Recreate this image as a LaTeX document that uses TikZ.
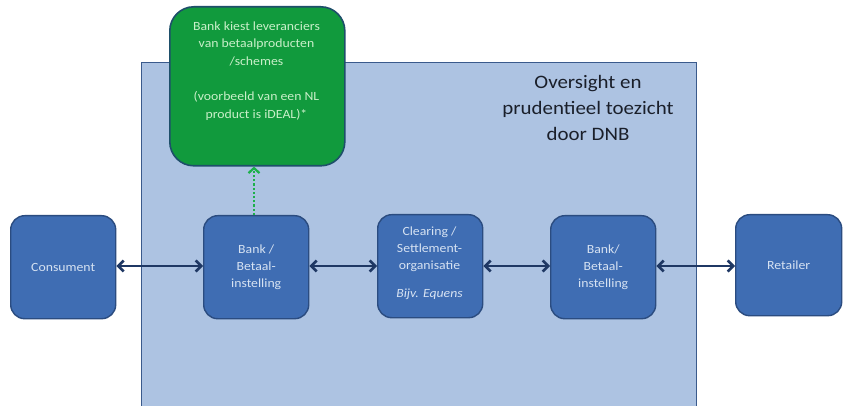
\documentclass[tikz,border=0pt]{standalone}
\usepackage{fontspec}
\setmainfont{Carlito}
\newfontfamily\wfont[FakeStretch=1.1]{Carlito}
\usetikzlibrary{arrows.meta}
\definecolor{bgblue}{HTML}{ADC3E2}
\definecolor{bgedge}{HTML}{3A5A8C}
\definecolor{boxfill}{HTML}{3F6DB3}
\definecolor{boxedge}{HTML}{2B4C80}
\definecolor{boxtext}{HTML}{D6E2F2}
\definecolor{greenfill}{HTML}{119A3D}
\definecolor{greenedge}{HTML}{1E4F6A}
\definecolor{greentext}{HTML}{C9EFC9}
\definecolor{dotgreen}{HTML}{1DB04A}
\definecolor{arrowcol}{HTML}{1F3864}
\definecolor{titlecol}{HTML}{1A1F2A}
\tikzset{
  x=1pt,y=-1pt,
  flowbox/.style={draw=boxedge, line width=1.4pt, fill=boxfill, rounded corners=14pt,
    minimum width=105pt, minimum height=103pt, text=boxtext, align=center,
    font=\wfont\fontsize{12.5}{17}\selectfont, inner sep=0pt},
  boxlabel/.style={text=boxtext, align=center, font=\wfont\fontsize{12.5}{17}\selectfont, inner sep=0pt},
  link/.style={draw=arrowcol, line width=2.6pt, {Straight Barb[length=5.5pt,width=11pt]}-{Straight Barb[length=5.5pt,width=11pt]}},
}
\begin{document}
\begin{tikzpicture}
\useasboundingbox (0,0) rectangle (846,406);
\fill[white] (0,0) rectangle (846,406);
% supervision area
\node[draw=bgedge, line width=1.2pt, fill=bgblue, minimum width=555pt, minimum height=350pt, inner sep=0pt, anchor=north west] (area) at (141,62) {};
\node[text=titlecol, align=center, font=\wfont\fontsize{19}{26}\selectfont, inner sep=0pt] (title) at (588,108) {Oversight en\\prudentieel toezicht\\door DNB};
% green box
\node[draw=greenedge, line width=1.6pt, fill=greenfill, rounded corners=24pt, minimum width=175pt, minimum height=159pt, inner sep=0pt, anchor=north west] (green) at (169,6) {};
\node[text=greentext, align=center, font=\wfont\fontsize{12.5}{17.7}\selectfont, inner sep=0pt] (greentxt) at (256.5,71) {Bank kiest leveranciers\\van betaalproducten\\/schemes\\[17.7pt](voorbeeld van een NL\\product is iDEAL)*};
% row boxes
\node[flowbox, anchor=north west] (cons) at (10,215) {Consument};
\node[flowbox, anchor=north west] (bank1) at (203,215) {Bank /\\Betaal-\\instelling};
\node[flowbox, anchor=north west] (clear) at (377,214) {};
\node[boxlabel] (cleartxt) at (429.5,263) {Clearing /\\Settlement-\\organisatie\\[11pt]\textit{Bijv. Equens}};
\node[flowbox, anchor=north west] (bank2) at (550,215) {Bank/\\Betaal-\\instelling};
\node[flowbox, anchor=north west, minimum width=106pt, minimum height=101pt] (ret) at (735,214) {Retailer};
% connectors
\draw[link] (cons.east |- 0,266) -- (bank1.west |- 0,266);
\draw[link] (bank1.east |- 0,266) -- (clear.west |- 0,266);
\draw[link] (clear.east |- 0,266) -- (bank2.west |- 0,266);
\draw[link] (bank2.east |- 0,266) -- (ret.west |- 0,266);
\draw[draw=dotgreen, line width=2.2pt, dotted, -{Straight Barb[length=5pt,width=11pt]}] (bank1.north -| 254,0) -- (green.south -| 254,0);
\end{tikzpicture}
\end{document}
